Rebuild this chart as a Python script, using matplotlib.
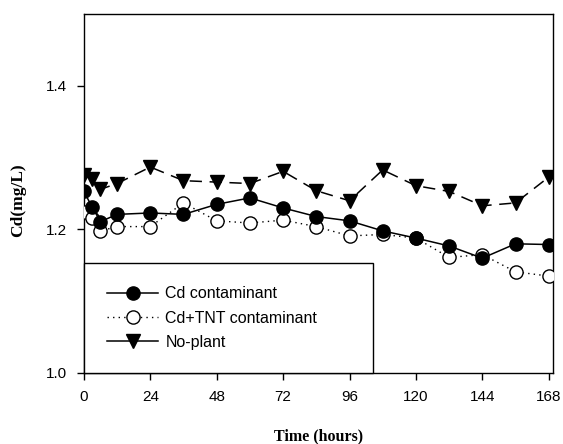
import matplotlib
matplotlib.use("Agg")
import matplotlib.pyplot as plt
from matplotlib.lines import Line2D

hours = [0, 3, 6, 12, 24, 36, 48, 60, 72, 84, 96, 108, 120, 132, 144, 156, 168]
cd = [1.253, 1.231, 1.211, 1.221, 1.223, 1.221, 1.235, 1.244, 1.230, 1.218,
      1.212, 1.198, 1.188, 1.177, 1.160, 1.180, 1.179]
cd_tnt = [1.224, 1.216, 1.198, 1.204, 1.204, 1.237, 1.212, 1.209, 1.213, 1.204,
          1.191, 1.193, 1.188, 1.161, 1.165, 1.141, 1.135]
no_plant = [1.276, 1.270, 1.256, 1.264, 1.287, 1.268, 1.266, 1.264, 1.281, 1.254,
            1.240, 1.283, 1.261, 1.253, 1.233, 1.237, 1.273]
labels = ["Cd contaminant", "Cd+TNT contaminant", "No-plant"]
xticks = [0, 24, 48, 72, 96, 120, 144, 168]
yticks = [1.0, 1.2, 1.4]

plt.rcParams['font.family'] = ['Liberation Sans', 'DejaVu Sans']

fig = plt.figure(figsize=(5.63, 4.44), dpi=100)
ax = fig.add_axes([0.149, 0.160, 0.833, 0.808])

ms = 9.5
ax.plot(hours, no_plant, color='black', lw=1.1, linestyle=(0, (8, 5)),
        marker='v', markersize=ms, markerfacecolor='black', markeredgecolor='black', zorder=3)
ax.plot(hours, cd_tnt, color='black', lw=1.0, linestyle=(0, (1, 3)),
        marker='o', markersize=ms, markerfacecolor='white', markeredgecolor='black',
        markeredgewidth=1.0, zorder=4)
ax.plot(hours, cd, color='black', lw=1.1, linestyle='-',
        marker='o', markersize=ms, markerfacecolor='black', markeredgecolor='black', zorder=5)

ax.set_xlim(0, 169.5)
ax.set_ylim(1.0, 1.5)
ax.set_xticks(xticks)
ax.set_xticklabels([str(t) for t in xticks])
ax.set_yticks(yticks)
ax.set_yticklabels([f"{t:.1f}" for t in yticks])
ax.tick_params(direction='out', length=5, width=1, labelsize=11, pad=7, colors='black')
for s in ax.spines.values():
    s.set_linewidth(1.0)

ax.set_xlabel("Time (hours)", family='Liberation Serif', fontweight='bold', fontsize=11.5)
ax.xaxis.label.set_va('center')
ax.xaxis.set_label_coords(0.5, -0.178)
ax.set_ylabel("Cd(mg/L)", family='Liberation Serif', fontweight='bold', fontsize=12.5)
ax.yaxis.label.set_va('center')
ax.yaxis.set_label_coords(-0.141, 0.482)

handles = [
    Line2D([], [], color='black', lw=1.1, linestyle='-', marker='o', markersize=ms,
           markerfacecolor='black', markeredgecolor='black'),
    Line2D([], [], color='black', lw=1.0, linestyle=(0, (1, 3)), marker='o', markersize=ms,
           markerfacecolor='white', markeredgecolor='black'),
    Line2D([], [], color='black', lw=1.1, linestyle='-', marker='v', markersize=ms,
           markerfacecolor='black', markeredgecolor='black'),
]
leg = ax.legend(handles, labels, loc='lower left', bbox_to_anchor=(0, 0, 0.617, 0.3),
                mode='expand', borderaxespad=0, fontsize=11.5, frameon=True, fancybox=False,
                handlelength=3.2, handletextpad=0.45, labelspacing=0.58, borderpad=1.45)
leg.get_frame().set_edgecolor('black')
leg.get_frame().set_linewidth(1.0)
leg.get_frame().set_alpha(1.0)
leg.set_zorder(10)

fig.savefig("out.png", dpi=100)
